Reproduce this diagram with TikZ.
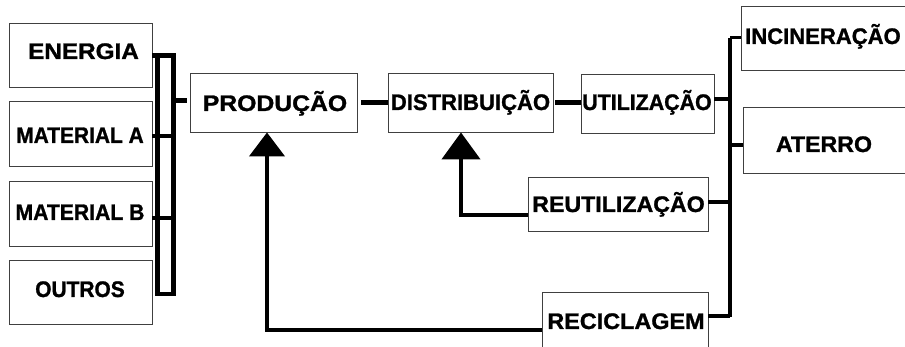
\documentclass[tikz,border=0pt]{standalone}
\usepackage{fontspec}
\setmainfont{Liberation Sans}
\newfontfamily\heavyfont{Liberation Sans Bold}[FakeBold=1.2]
\usepackage{graphicx}
\usetikzlibrary{arrows.meta}
\newcommand{\hsq}[2]{\scalebox{#1}[1]{#2}}
\begin{document}
\begin{tikzpicture}[x=1pt,y=-1pt,
  box/.style={draw=black!75,line width=0.9pt,fill=white,inner sep=0pt},
  lbl/.style={anchor=base,inner sep=0pt,font=\heavyfont\fontsize{22.5}{27}\selectfont},
  conn/.style={line width=4.5pt},
  up/.style={conn,-{Triangle[width=35pt,length=24pt]}}]
\useasboundingbox (0,0) rectangle (905,347);
\clip (0,0) rectangle (905,347);
\fill[white] (0,0) rectangle (905,347);
% boxes
\node[box,minimum width=143pt,minimum height=64pt] (energia) at (80.5,55) {};
\node[box,minimum width=143pt,minimum height=65pt] (matA) at (80.5,133.5) {};
\node[box,minimum width=143pt,minimum height=65pt] (matB) at (80.5,213.5) {};
\node[box,minimum width=143pt,minimum height=64pt] (outros) at (80.5,292) {};
\node[box,minimum width=167pt,minimum height=59pt] (prod) at (273.5,102.5) {};
\node[box,minimum width=165pt,minimum height=59pt] (dist) at (470.5,102.5) {};
\node[box,minimum width=133pt,minimum height=59pt] (util) at (647.5,103.5) {};
\node[box,minimum width=184pt,minimum height=64pt] (incin) at (833,38) {};
\node[box,minimum width=182pt,minimum height=66pt] (aterro) at (834,140) {};
\node[box,minimum width=180pt,minimum height=54pt] (reut) at (618,204) {};
\node[box,minimum width=166pt,minimum height=70pt] (recic) at (625,327) {};
% left bracket
\coordinate (bTL) at (157.5,55.5);
\coordinate (bBR) at (173.5,294);
\draw[conn] (bTL) rectangle (bBR);
\draw[conn] (energia.east |- bTL) -- (bTL);
\draw[conn] (bBR |- 0,100.5) -- ([xshift=-3pt]prod.west |- 0,100.5);
\draw[conn] (matA.east |- 0,136) -- (171,136);
\draw[conn] (matB.east |- 0,218) -- (bBR |- 0,218);
% main chain
\draw[conn,shorten <=4pt] (prod.east) -- (dist.west);
\draw[conn,shorten <=2pt] (dist.east) -- (dist.east -| util.west);
% right bus
\coordinate (busT) at (730,38);
\coordinate (busB) at (730,317);
\draw[line width=4pt] (busT) -- (busB);
\draw[conn] (util.east |- 0,99) -- (busT |- 0,99);
\draw[line width=3pt] (busT) -- (incin.west |- busT);
\draw[line width=3.5pt] (busT |- 0,145) -- (aterro.west |- 0,145);
\draw[conn] (reut.east |- 0,202) -- (busT |- 0,202);
\draw[conn] (recic.east |- 0,316) -- (busT |- 0,316);
% feedback arrows
\coordinate (c1) at (267,330);
\draw[up] (recic.west |- c1) -- (c1) -- (c1 |- prod.south);
\coordinate (c2) at (461,215);
\draw[conn,-{Triangle[width=38pt,length=27pt]}] (reut.west |- c2) -- (c2) -- (c2 |- dist.south);
% labels
\node[lbl] (tEn) at (83.5,59) {\hsq{1.08}{ENERGIA}};
\node[lbl] (tMa) at (80,143) {\hsq{0.93}{MATERIAL A}};
\node[lbl] (tMb) at (80,220) {\hsq{0.94}{MATERIAL B}};
\node[lbl] (tOu) at (80,297) {\hsq{0.93}{OUTROS}};
\node[lbl] (tPr) at (275,111) {\hsq{1.10}{PRODUÇÃO}};
\node[lbl] (tDi) at (470.5,110) {\hsq{0.98}{DISTRIBUIÇÃO}};
\node[lbl] (tUt) at (647,110) {\hsq{0.95}{UTILIZAÇÃO}};
\node[lbl,anchor=base west] (tIn) at (745,44) {\hsq{0.98}{INCINERAÇÃO}};
\node[lbl] (tAt) at (824,152) {\hsq{1.03}{ATERRO}};
\node[lbl] (tRe) at (618.5,212) {\hsq{1.03}{REUTILIZAÇÃO}};
\node[lbl] (tRc) at (626,329) {\hsq{1.04}{RECICLAGEM}};
\end{tikzpicture}
\end{document}
